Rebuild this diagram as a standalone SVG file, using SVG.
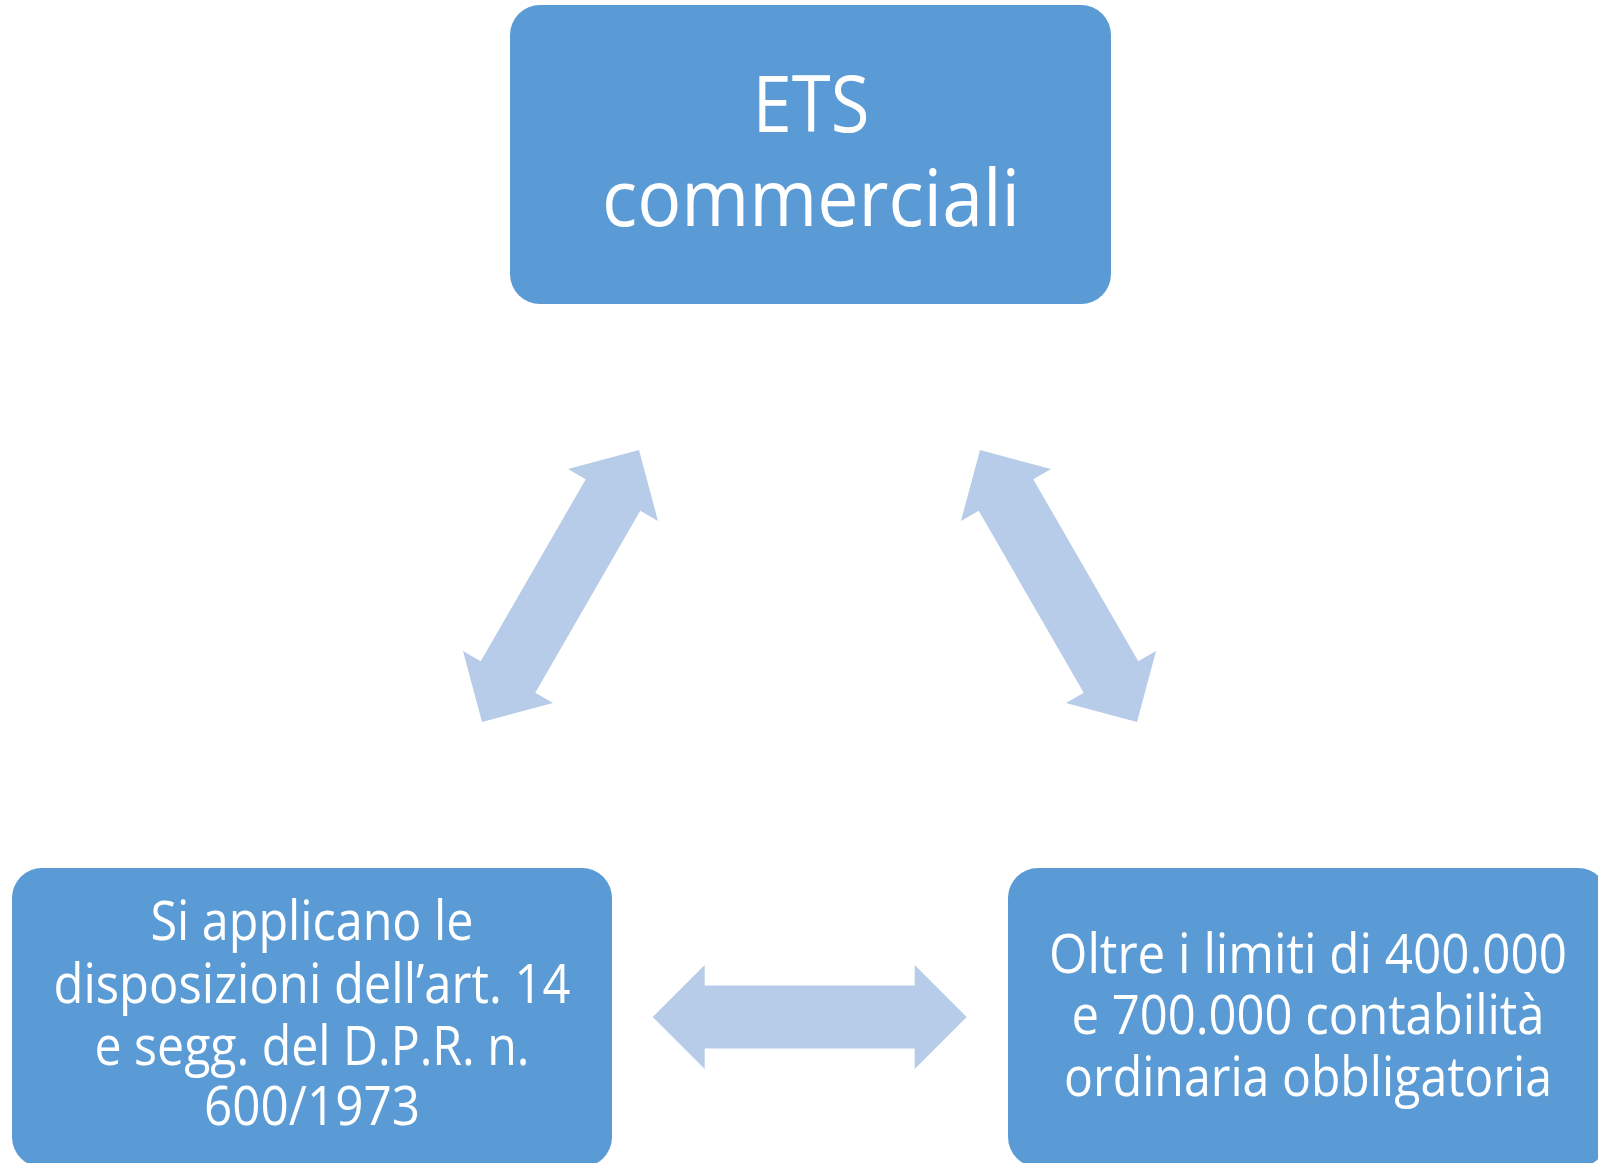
<svg xmlns="http://www.w3.org/2000/svg" width="1598" height="1163" viewBox="0 0 1598 1163">
<style>
.box{fill:#5B9BD5}
.arr{fill:#B7CCE8}
.t{font-family:"Open Sans","Liberation Sans",sans-serif;fill:#FFFFFF;text-anchor:middle}
.big{font-size:78px}
.small{font-size:55px}
</style>
<defs>
<polygon id="dblarrow" points="-157,0 -105,-52 -105,-31.5 105,-31.5 105,-52 157,0 105,52 105,31.5 -105,31.5 -105,52"/>
</defs>
<rect width="1598" height="1163" fill="#FFFFFF"/>
<g id="connectors">
<use href="#dblarrow" class="arr" transform="translate(560.5,586) rotate(-60)"/>
<use href="#dblarrow" class="arr" transform="translate(1058.5,586) rotate(60)"/>
<use href="#dblarrow" class="arr" transform="translate(809.7,1017)"/>
</g>
<g id="node-top">
<rect class="box" x="510" y="5" width="601" height="299" rx="30" ry="30"/>
<text class="t big" x="811" y="132" textLength="117" lengthAdjust="spacingAndGlyphs">ETS</text>
<text class="t big" x="811" y="226" textLength="418" lengthAdjust="spacingAndGlyphs">commerciali</text>
</g>
<g id="node-left">
<rect class="box" x="12" y="868" width="600" height="299" rx="30" ry="30"/>
<text class="t small" x="312" y="940" textLength="323" lengthAdjust="spacingAndGlyphs">Si applicano le</text>
<text class="t small" x="312" y="1003" textLength="517" lengthAdjust="spacingAndGlyphs">disposizioni dell’art. 14</text>
<text class="t small" x="312" y="1065" textLength="435" lengthAdjust="spacingAndGlyphs">e segg. del D.P.R. n.</text>
<text class="t small" x="312" y="1125" textLength="216" lengthAdjust="spacingAndGlyphs">600/1973</text>
</g>
<g id="node-right">
<rect class="box" x="1008" y="868" width="600" height="299" rx="30" ry="30"/>
<text class="t small" x="1308" y="973" textLength="518" lengthAdjust="spacingAndGlyphs">Oltre i limiti di 400.000</text>
<text class="t small" x="1308" y="1034" textLength="473" lengthAdjust="spacingAndGlyphs">e 700.000 contabilità</text>
<text class="t small" x="1308" y="1096" textLength="488" lengthAdjust="spacingAndGlyphs">ordinaria obbligatoria</text>
</g>
</svg>
